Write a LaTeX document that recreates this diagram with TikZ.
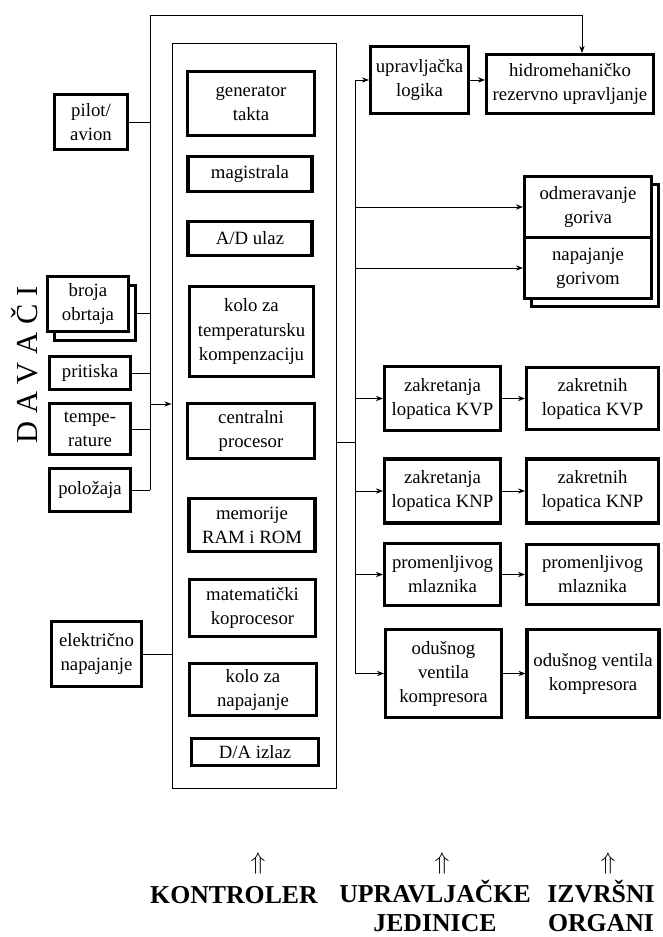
\documentclass[tikz,border=0pt]{standalone}
\usepackage{fontspec}
\setmainfont{Liberation Serif}
\usepackage{tikz}
\usetikzlibrary{arrows.meta,positioning}

\begin{document}
\begin{tikzpicture}[x=0.03cm,y=-0.03cm,>={Stealth[length=6pt,width=4.5pt]}]
	\tikzstyle{blok} = [draw, line width=2.6pt, fill=white, align=center, inner sep=0, font=\fontsize{16}{20.5}\selectfont]
	\tikzstyle{okvir} = [draw, line width=0.8pt, inner sep=0]
	\tikzstyle{veza} = [black, line width=0.8pt]
	\tikzstyle{strelica} = [->, black, line width=0.8pt]
	\tikzstyle{naslov} = [align=center, inner sep=0, font=\fontsize{22}{24.5}\selectfont\bfseries]
	\tikzstyle{gore} = [inner sep=0, font=\fontsize{20}{24}\selectfont]
	\tikzset{dim/.style 2 args={minimum width=#1*0.3mm, minimum height=#2*0.3mm}}
	\useasboundingbox (0,0) rectangle (662,937);
	
	% kontroler
	\node [okvir,dim={164}{745}] (kontroler) at (254,415.5) {};
	\node [blok,dim={127}{64}] (gen) at (251,103.5) {generator\\takta};
	\node [blok,dim={124}{35}] (mag) at (250,174) {magistrala};
	\node [blok,dim={124}{34}] (adu) at (250,238.5) {A/D ulaz};
	\node [blok,dim={124}{90}] (kt) at (251.5,331.5) {kolo za\\temperatursku\\kompenzaciju};
	\node [blok,dim={127}{55}] (cpu) at (251,431) {centralni\\procesor};
	\node [blok,dim={126}{53}] (mem) at (252,525) {memorije\\RAM i ROM};
	\node [blok,dim={126}{57}] (mat) at (252.5,608) {matematički\\koprocesor};
	\node [blok,dim={127}{52}] (nap) at (253,689.5) {kolo za\\napajanje};
	\node [blok,dim={127}{27}] (dai) at (255,752) {D/A izlaz};
	
	% davaci
	\node [rotate=90, inner sep=0, font=\fontsize{26}{30}\selectfont] (davaci) at (25,365) {D A V A Č I};
	\node [blok,dim={73}{55}] (pilot) at (91,122) {pilot/\\avion};
	\node [blok,dim={81}{55}] (brojas) at (95,313) {};
	\node [blok,dim={81}{55}] (broja) at (88,304) {broja\\obrtaja};
	\node [blok,dim={81}{33}] (prit) at (90,373) {pritiska};
	\node [blok,dim={81}{51}] (temp) at (90,429) {tempe-\\rature};
	\node [blok,dim={81}{43}] (pol) at (90,490) {položaja};
	\node [blok,dim={90}{65}] (elek) at (96.5,654) {električno\\napajanje};
	
	\coordinate (bt) at (150,15);
	\coordinate (b1) at (150,404);
	\draw [veza] (pilot.east) -- (pilot.east -| bt);
	\draw [veza] (brojas.east) -- (brojas.east -| bt);
	\draw [veza] (prit.east) -- (prit.east -| bt);
	\draw [veza] (temp.east) -- (temp.east -| bt);
	\draw [veza] (pol.east) -- (pol.east -| bt);
	\draw [strelica] (b1) -- (b1 -| kontroler.west);
	\draw [veza] (elek.east) -- (elek.east -| kontroler.west);
	
	% upravljacke jedinice i izvrsni organi
	\node [blok,dim={98}{67}] (ul) at (419.5,80) {upravljačka\\logika};
	\node [blok,dim={167}{59}] (hidro) at (570,84) {hidromehaničko\\rezervno upravljanje};
	\node [blok,dim={127}{122}] (gorivos) at (595,245.5) {};
	\node [blok,dim={127}{61}] (odm) at (588,207) {odmeravanje\\goriva};
	\node [blok,dim={127}{61}] (ng) at (588,268) {napajanje\\gorivom};
	
	\node [blok,dim={116}{64}] (zl1) at (442.5,398.5) {zakretanja\\lopatica KVP};
	\node [blok,dim={132}{62}] (zn1) at (592.5,398.5) {zakretnih\\lopatica KVP};
	\node [blok,dim={116}{64}] (zl2) at (442.5,491) {zakretanja\\lopatica KNP};
	\node [blok,dim={132}{64}] (zn2) at (592.5,491) {zakretnih\\lopatica KNP};
	\node [blok,dim={116}{62}] (pm1) at (442.5,574.5) {promenljivog\\mlaznika};
	\node [blok,dim={132}{60}] (pm2) at (592.5,574.5) {promenljivog\\mlaznika};
	\node [blok,dim={116}{88}] (od1) at (443.5,673.5) {odušnog\\ventila\\kompresora};
	\node [blok,dim={132}{88}] (od2) at (593,673.5) {odušnog ventila\\kompresora};
	
	\coordinate (b2) at (355,442);
	\draw [veza] (b2 -| kontroler.east) -- (b2);
	\draw [veza] (b2 |- ul.west) -- (b2 |- od1.west);
	\draw [strelica] (b2 |- ul.west) -- (ul.west);
	\draw [strelica] (b2 |- odm.west) -- (odm.west);
	\draw [strelica] (b2 |- ng.west) -- (ng.west);
	\draw [strelica] (b2 |- zl1.west) -- (zl1.west);
	\draw [strelica] (b2 |- zl2.west) -- (zl2.west);
	\draw [strelica] (b2 |- pm1.west) -- (pm1.west);
	\draw [strelica] (b2 |- od1.west) -- (od1.west);
	
	\draw [strelica] (ul.east) -- (ul.east -| hidro.west);
	\draw [strelica] (zl1) edge (zn1);
	\draw [strelica] (zl2) edge (zn2);
	\draw [strelica] (pm1) edge (pm2);
	\draw [strelica] (od1) edge (od2);
	
	\draw [strelica] (bt |- pol.east) -- (bt) -| ([xshift=0.36cm]hidro.north);
	
	% natpisi
	\node [gore] (s1) at (258,863) {$\Uparrow$};
	\node [gore] (s2) at (442,863) {$\Uparrow$};
	\node [gore] (s3) at (608,863) {$\Uparrow$};
	\node [naslov,anchor=base] (kon) at (234,903) {KONTROLER};
	\node [naslov,anchor=base] (uj) at (435,931) {UPRAVLJAČKE\\JEDINICE};
	\node [naslov,anchor=base] (io) at (601,931) {IZVRŠNI\\ORGANI};
\end{tikzpicture}
\end{document}
